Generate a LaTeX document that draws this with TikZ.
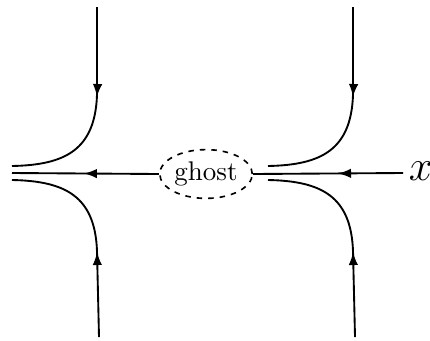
\documentclass[tikz,border=0pt]{standalone}
\usetikzlibrary{arrows.meta,decorations.markings,shapes.geometric}
\begin{document}
\begin{tikzpicture}[x=0.4pt,y=-0.4pt,
  flow/.style={line width=0.75pt},
  tipat/.style={postaction={decorate},decoration={markings,
     mark=at position #1 with {\arrow{Latex[length=5.2pt,width=3.8pt]}}}},
  ghostbox/.style={ellipse,draw,dashed,dash pattern=on 2.2pt off 2.4pt,line width=0.65pt,
     minimum width=37pt,minimum height=19.5pt,inner sep=0pt,
     font=\fontsize{10.8}{12}\selectfont}]
\useasboundingbox (0,0) rectangle (430,340);
% named points
\coordinate (tl) at (97,7);
\coordinate (tlb) at (97,95);
\coordinate (bl) at (99,337);
\coordinate (blb) at (97,251);
\coordinate (el1) at (12,166);
\coordinate (el2) at (12,180);
\coordinate (axl) at (12,173);
\coordinate (tr) at (353,7);
\coordinate (trb) at (353,95);
\coordinate (br) at (355,337);
\coordinate (brb) at (353,251);
\coordinate (er1) at (268,166);
\coordinate (er2) at (268,180);
\coordinate (axr) at (403,173);
\node[ghostbox] (ghost) at (206,174) {ghost};
\node[font=\fontsize{16}{18}\selectfont] (xl) at (421,171) {$x$};
% left separatrices
\draw[flow,tipat=36pt] (tl) -- (tlb) .. controls (95,150) and (65,165) .. (el1);
\draw[flow,tipat=34pt] (bl) -- (blb) .. controls (95,196) and (65,181) .. (el2);
% right separatrices
\draw[flow,tipat=36pt] (tr) -- (trb) .. controls (351,150) and (321,165) .. (er1);
\draw[flow,tipat=34pt] (br) -- (brb) .. controls (351,196) and (321,181) .. (er2);
% axis
\draw[flow,tipat=30pt] (ghost.west) -- (axl);
\draw[flow,tipat=26pt] (axr) -- (ghost.east);
\end{tikzpicture}
\end{document}
